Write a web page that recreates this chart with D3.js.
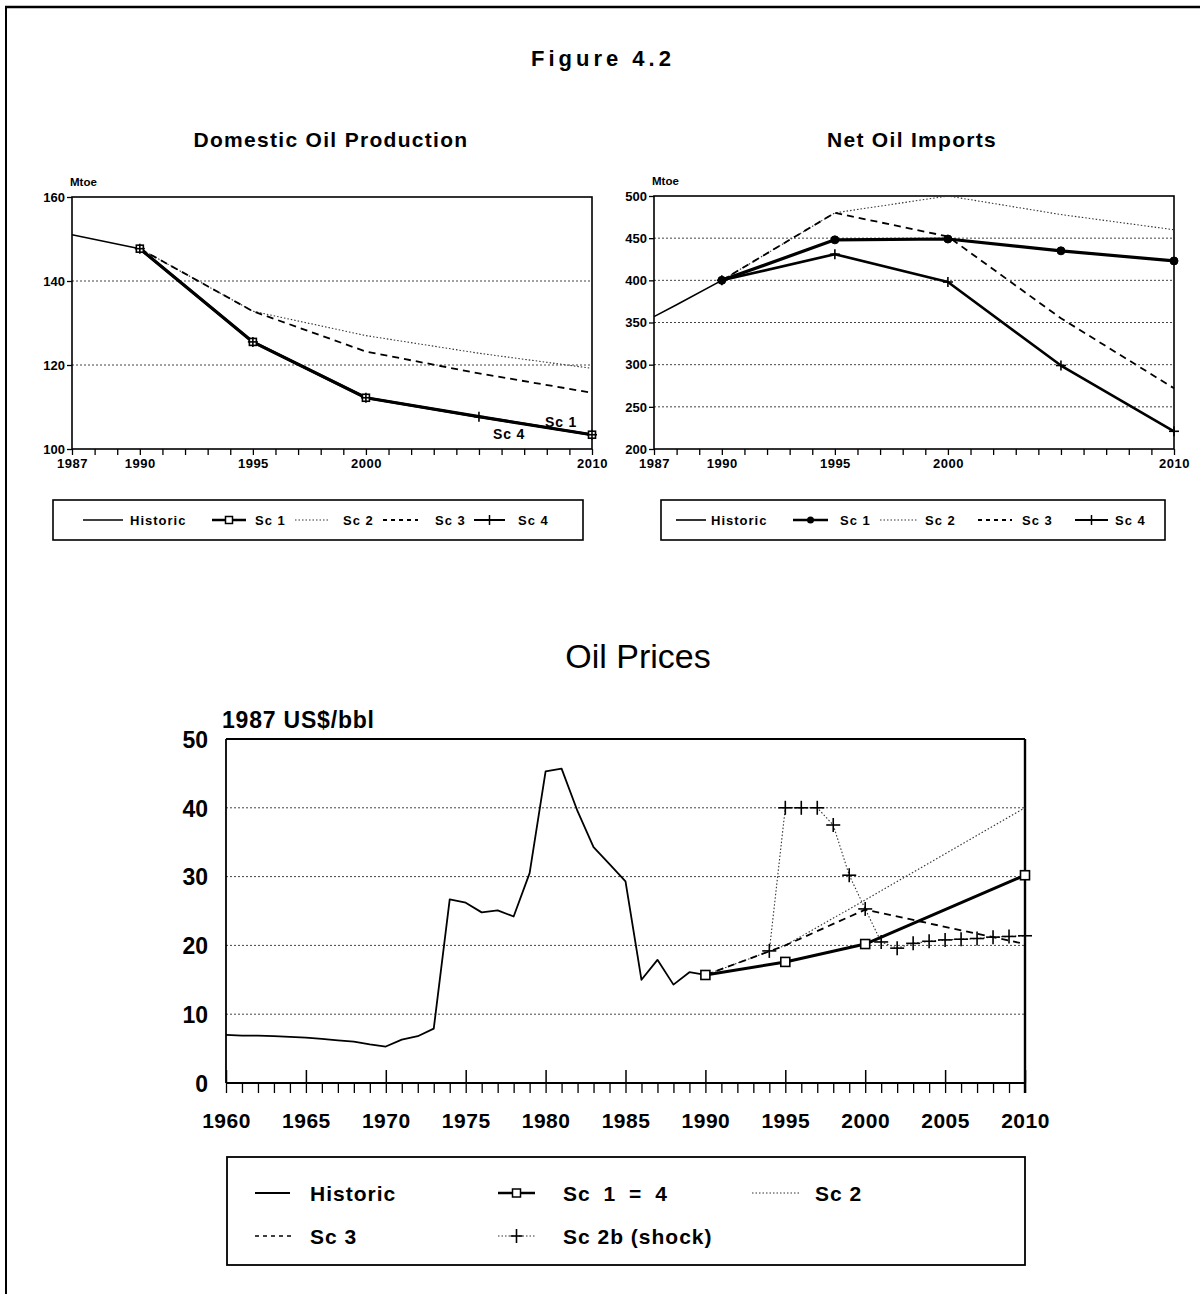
<!DOCTYPE html>
<html><head><meta charset="utf-8">
<script src="https://cdn.jsdelivr.net/npm/d3@7"></script>
<style>
body{margin:0;background:#fff}
svg{display:block}
text{font-family:"Liberation Sans",Arial,Helvetica,sans-serif;fill:#000}
</style>
</head><body>
<svg id="c" width="1200" height="1294"></svg>
<script>
// ---------------- DATA ----------------
// Domestic Oil Production (Mtoe)
const prodHistYears = [1987, 1990];
const prodHist = [151, 147.7];
const scenYears = [1990, 1995, 2000, 2005, 2010];
const prodSc1 = [147.7, 125.5, 112.2, 107.7, 103.4];
const prodSc2 = [147.7, 132.8, 127.0, 122.8, 119.2];
const prodSc3 = [147.7, 132.8, 123.2, 118.0, 113.4];
const prodSc4 = [147.7, 125.5, 112.2, 107.7, 103.4];
const prodYTicks = [100, 120, 140, 160];

// Net Oil Imports (Mtoe)
const impHistYears = [1987, 1988, 1990];
const impHist = [357, 371, 400];
const impSc1 = [400, 448, 449, 435, 423];
const impSc2 = [400, 480, 500, 478, 460];
const impSc3 = [400, 480, 452, 355, 272];
const impSc4 = [400, 431, 398, 299, 221];
const impYTicks = [200, 250, 300, 350, 400, 450, 500];

const smallXLabels = [1987, 1990, 1995, 2000, 2010];

// Oil Prices (1987 US$/bbl)
const priceHistYears = [1960,1961,1962,1963,1964,1965,1966,1967,1968,1969,1970,1971,1972,1973,1974,1975,1976,1977,1978,1979,1980,1981,1982,1983,1984,1985,1986,1987,1988,1989,1990];
const priceHist = [7.0,6.9,6.9,6.8,6.7,6.6,6.4,6.2,6.0,5.6,5.3,6.3,6.8,7.9,26.7,26.2,24.8,25.1,24.2,30.5,45.3,45.7,39.5,34.3,31.8,29.3,15.0,17.9,14.3,16.1,15.7];
const sc14Years = [1990, 1995, 2000, 2010];
const sc14 = [15.7, 17.6, 20.2, 30.2];
const sc2Years = [1990, 1995, 2000, 2010];
const sc2 = [15.7, 20.0, 26.6, 40.0];
const sc3Years = [1990, 1995, 2000, 2010];
const sc3 = [15.7, 20.0, 25.2, 20.2];
const shockYears = [1994,1995,1996,1997,1998,1999,2000,2001,2002,2003,2004,2005,2006,2007,2008,2009,2010];
const shock = [19.2,40.0,40.0,40.0,37.5,30.2,25.3,20.5,19.6,20.3,20.6,20.8,20.9,21.0,21.2,21.3,21.4];
const priceYTicks = [0, 10, 20, 30, 40, 50];
const priceXLabels = [1960,1965,1970,1975,1980,1985,1990,1995,2000,2005,2010];

// ---------------- STYLES ----------------
const ST = {
  hist: {w:1.6, dash:null},
  sc1:  {w:3.2, dash:null},
  sc2:  {w:1.1, dash:"1.5,2", color:"#333"},
  sc3:  {w:1.8, dash:"7,5"},
  sc4:  {w:2.6, dash:null}
};

const svg = d3.select("#c");

// page border
svg.append("line").attr("x1",5).attr("y1",7).attr("x2",1200).attr("y2",7).attr("stroke","#000").attr("stroke-width",2.5);
svg.append("line").attr("x1",6).attr("y1",6).attr("x2",6).attr("y2",1294).attr("stroke","#000").attr("stroke-width",2);

// titles
svg.append("text").attr("x",603).attr("y",66).attr("text-anchor","middle")
  .style("font-size","22px").style("font-weight","bold").style("letter-spacing","4px").text("Figure 4.2");
svg.append("text").attr("x",331).attr("y",147).attr("text-anchor","middle")
  .style("font-size","21px").style("font-weight","bold").style("letter-spacing","1.3px").text("Domestic Oil Production");
svg.append("text").attr("x",912).attr("y",147).attr("text-anchor","middle")
  .style("font-size","21px").style("font-weight","bold").style("letter-spacing","1.3px").text("Net Oil Imports");
svg.append("text").attr("x",638).attr("y",668).attr("text-anchor","middle")
  .style("font-size","34px").text("Oil Prices");

function pathFor(g, x, y, years, vals, st) {
  const data = years.map((yr,i)=>[yr, vals[i]]);
  const p = g.append("path").datum(data)
    .attr("fill","none").attr("stroke", st.color || "#000")
    .attr("stroke-width", st.w).attr("stroke-linejoin","round")
    .attr("d", d3.line().x(d=>x(d[0])).y(d=>y(d[1])));
  if (st.dash) p.attr("stroke-dasharray", st.dash);
  return data;
}
function squares(g, x, y, data, s) {
  g.selectAll(null).data(data).enter().append("rect")
    .attr("x", d=>x(d[0])-s/2).attr("y", d=>y(d[1])-s/2)
    .attr("width", s).attr("height", s)
    .attr("fill","#fff").attr("stroke","#000").attr("stroke-width",1.6);
}
function circles(g, x, y, data, r) {
  g.selectAll(null).data(data).enter().append("circle")
    .attr("cx", d=>x(d[0])).attr("cy", d=>y(d[1])).attr("r", r)
    .attr("fill","#000").attr("stroke","#000");
}
function pluses(g, x, y, data, s, w) {
  const sel = g.selectAll(null).data(data).enter().append("g")
    .attr("transform", d=>`translate(${x(d[0])},${y(d[1])})`);
  sel.append("line").attr("x1",-s).attr("x2",s).attr("y1",0).attr("y2",0).attr("stroke","#000").attr("stroke-width",w);
  sel.append("line").attr("y1",-s).attr("y2",s).attr("x1",0).attr("x2",0).attr("stroke","#000").attr("stroke-width",w);
}

function smallChart(cfg) {
  const g = svg.append("g");
  const x = d3.scaleLinear().domain([1987, 2010]).range([cfg.left, cfg.right]);
  const y = d3.scaleLinear().domain([cfg.yTicks[0], cfg.yTicks[cfg.yTicks.length-1]]).range([cfg.bottom, cfg.top]);
  g.selectAll(null).data(cfg.yTicks.slice(1, -1)).enter().append("line")
    .attr("x1", cfg.left).attr("x2", cfg.right).attr("y1", d=>y(d)).attr("y2", d=>y(d))
    .attr("stroke","#444").attr("stroke-width",1).attr("stroke-dasharray","2,2");
  const xa = g.append("g").attr("transform",`translate(0,${cfg.bottom})`)
    .call(d3.axisBottom(x).tickValues(d3.range(1987, 2011)).tickSize(6).tickPadding(4)
      .tickFormat(d => smallXLabels.includes(d) ? d : ""));
  const ya = g.append("g").attr("transform",`translate(${cfg.left},0)`)
    .call(d3.axisLeft(y).tickValues(cfg.yTicks).tickSize(5).tickPadding(2));
  [xa, ya].forEach(a => {
    a.select(".domain").remove();
    a.selectAll("line").attr("stroke","#000").attr("stroke-width",1.3);
    a.selectAll("text").style("font-size","13px").style("font-weight","bold").attr("fill","#000")
      .style("font-family","'Liberation Sans',Arial,sans-serif");
  });
  xa.selectAll("text").style("letter-spacing","0.5px");
  g.append("rect").attr("x",cfg.left).attr("y",cfg.top).attr("width",cfg.right-cfg.left).attr("height",cfg.bottom-cfg.top)
    .attr("fill","none").attr("stroke","#000").attr("stroke-width",1.6);
  g.append("text").attr("x", cfg.left-2).attr("y", cfg.top-11).style("font-size","11.5px").style("font-weight","bold").text("Mtoe");

  pathFor(g, x, y, cfg.histYears, cfg.hist, ST.hist);
  pathFor(g, x, y, scenYears, cfg.sc2, ST.sc2);
  pathFor(g, x, y, scenYears, cfg.sc3, ST.sc3);
  const d4 = pathFor(g, x, y, scenYears, cfg.sc4, ST.sc4);
  const d1 = pathFor(g, x, y, scenYears, cfg.sc1, ST.sc1);
  if (cfg.marker === "square") squares(g, x, y, d1.filter(d=>d[0]!==2005), 7);
  else circles(g, x, y, d1, 4);
  pluses(g, x, y, d4, 5, 1.6);
  return {g, x, y};
}

const left = smallChart({left:72, right:592, top:197, bottom:449, yTicks:prodYTicks,
  histYears:prodHistYears, hist:prodHist, sc1:prodSc1, sc2:prodSc2, sc3:prodSc3, sc4:prodSc4, marker:"square"});
left.g.append("text").attr("x",545).attr("y",427).style("font-size","14px").style("font-weight","bold").style("letter-spacing","0.8px").text("Sc 1");
left.g.append("text").attr("x",493).attr("y",439).style("font-size","14px").style("font-weight","bold").style("letter-spacing","0.8px").text("Sc 4");

smallChart({left:654, right:1174, top:196, bottom:449, yTicks:impYTicks,
  histYears:impHistYears, hist:impHist, sc1:impSc1, sc2:impSc2, sc3:impSc3, sc4:impSc4, marker:"circle"});

function smallLegend(bx, bw, items, marker) {
  const g = svg.append("g");
  g.append("rect").attr("x",bx).attr("y",500).attr("width",bw).attr("height",40)
    .attr("fill","none").attr("stroke","#000").attr("stroke-width",1.6);
  const cy = 520;
  items.forEach(it => {
    const st = ST[it.key];
    const l = g.append("line").attr("x1",it.l0).attr("x2",it.l1).attr("y1",cy).attr("y2",cy)
      .attr("stroke",st.color||"#000").attr("stroke-width", it.key==="sc1"?2.4:(it.key==="sc4"?2:st.w));
    if (st.dash) l.attr("stroke-dasharray", it.key==="sc3" ? "4,4" : st.dash);
    const mx = (it.l0+it.l1)/2;
    if (it.key==="sc1") {
      if (marker==="square") g.append("rect").attr("x",mx-3.5).attr("y",cy-3.5).attr("width",7).attr("height",7).attr("fill","#fff").attr("stroke","#000").attr("stroke-width",1.5);
      else g.append("circle").attr("cx",mx).attr("cy",cy).attr("r",3.5).attr("fill","#000");
    }
    if (it.key==="sc4") {
      g.append("line").attr("x1",mx).attr("x2",mx).attr("y1",cy-5).attr("y2",cy+5).attr("stroke","#000").attr("stroke-width",1.5);
    }
    g.append("text").attr("x",it.tx).attr("y",cy).attr("dy","0.36em")
      .style("font-size","13px").style("font-weight","bold").style("letter-spacing","1px").text(it.label);
  });
}
smallLegend(53, 530, [
  {key:"hist", l0:83, l1:123, tx:130, label:"Historic"},
  {key:"sc1", l0:212, l1:246, tx:255, label:"Sc 1"},
  {key:"sc2", l0:295, l1:330, tx:343, label:"Sc 2"},
  {key:"sc3", l0:383, l1:418, tx:435, label:"Sc 3"},
  {key:"sc4", l0:474, l1:505, tx:518, label:"Sc 4"}
], "square");
smallLegend(661, 504, [
  {key:"hist", l0:676, l1:706, tx:711, label:"Historic"},
  {key:"sc1", l0:793, l1:828, tx:840, label:"Sc 1"},
  {key:"sc2", l0:880, l1:918, tx:925, label:"Sc 2"},
  {key:"sc3", l0:978, l1:1012, tx:1022, label:"Sc 3"},
  {key:"sc4", l0:1075, l1:1108, tx:1115, label:"Sc 4"}
], "circle");

// ---------------- OIL PRICES ----------------
(function(){
  const L=226, R=1025, T=739, B=1083;
  const g = svg.append("g");
  const x = d3.scaleLinear().domain([1960, 2010]).range([L, R]);
  const y = d3.scaleLinear().domain([0, 50]).range([B, T]);
  g.selectAll(null).data(priceYTicks.slice(1,-1)).enter().append("line")
    .attr("x1",L).attr("x2",R).attr("y1",d=>y(d)).attr("y2",d=>y(d))
    .attr("stroke","#444").attr("stroke-width",1).attr("stroke-dasharray","2,2");
  const xa = g.append("g").attr("transform",`translate(0,${B})`)
    .call(d3.axisBottom(x).tickValues(d3.range(1960, 2011)).tickSize(10).tickFormat(""));
  xa.select(".domain").remove();
  xa.selectAll("line").attr("stroke","#000").attr("stroke-width",1.3);
  const xm = g.append("g").attr("transform",`translate(0,${B})`)
    .call(d3.axisBottom(x).tickValues(priceXLabels).tickSizeInner(-13).tickSizeOuter(0).tickPadding(30).tickFormat(d3.format("d")));
  xm.select(".domain").remove();
  xm.selectAll("line").attr("stroke","#000").attr("stroke-width",1.5);
  xm.selectAll("text").style("font-size","21px").style("font-weight","bold").style("letter-spacing","0.5px")
    .style("font-family","'Liberation Sans',Arial,sans-serif").attr("fill","#000");
  const ya = g.append("g").attr("transform",`translate(${L},0)`)
    .call(d3.axisLeft(y).tickValues(priceYTicks).tickSize(0).tickPadding(18));
  ya.select(".domain").remove();
  ya.selectAll("text").style("font-size","23px").style("font-weight","bold").attr("dy","0.36em")
    .style("font-family","'Liberation Sans',Arial,sans-serif").attr("fill","#000");
  g.append("line").attr("x1",L).attr("x2",R).attr("y1",B).attr("y2",B).attr("stroke","#000").attr("stroke-width",1.8);
  g.append("line").attr("x1",L).attr("x2",L).attr("y1",T).attr("y2",B).attr("stroke","#000").attr("stroke-width",1.8);
  g.append("line").attr("x1",L).attr("x2",R).attr("y1",T).attr("y2",T).attr("stroke","#000").attr("stroke-width",1.8);
  g.append("line").attr("x1",R).attr("x2",R).attr("y1",T).attr("y2",B+10).attr("stroke","#000").attr("stroke-width",2.4);
  g.append("text").attr("x",222).attr("y",728).style("font-size","23px").style("font-weight","bold").style("letter-spacing","0.8px").text("1987 US$/bbl");

  pathFor(g, x, y, priceHistYears, priceHist, {w:1.8});
  pathFor(g, x, y, sc2Years, sc2, ST.sc2);
  const ds = pathFor(g, x, y, shockYears, shock, ST.sc2);
  pathFor(g, x, y, sc3Years, sc3, {w:1.8, dash:"7,5"});
  const d14 = pathFor(g, x, y, sc14Years, sc14, {w:3});
  squares(g, x, y, d14, 9);
  pluses(g, x, y, ds, 7, 1.6);

  const lg = svg.append("g");
  lg.append("rect").attr("x",227).attr("y",1157).attr("width",798).attr("height",108)
    .attr("fill","none").attr("stroke","#000").attr("stroke-width",1.8);
  const items = [
    {l0:255,l1:290,y:1193,tx:310,label:"Historic",st:{w:1.8}},
    {l0:498,l1:535,y:1193,tx:563,label:"Sc 1 = 4",st:{w:2.4},mk:"sq",ws:"6px"},
    {l0:752,l1:800,y:1193,tx:815,label:"Sc 2",st:ST.sc2},
    {l0:255,l1:292,y:1236,tx:310,label:"Sc 3",st:{w:1.5,dash:"4,4"}},
    {l0:498,l1:535,y:1236,tx:563,label:"Sc 2b (shock)",st:ST.sc2,mk:"plus"}
  ];
  items.forEach(it => {
    const l = lg.append("line").attr("x1",it.l0).attr("x2",it.l1).attr("y1",it.y).attr("y2",it.y)
      .attr("stroke",it.st.color||"#000").attr("stroke-width",it.st.w);
    if (it.st.dash) l.attr("stroke-dasharray", it.st.dash);
    const mx=(it.l0+it.l1)/2;
    if (it.mk==="sq") lg.append("rect").attr("x",mx-4).attr("y",it.y-4).attr("width",8).attr("height",8).attr("fill","#fff").attr("stroke","#000").attr("stroke-width",1.5);
    if (it.mk==="plus") {
      lg.append("line").attr("x1",mx-6).attr("x2",mx+6).attr("y1",it.y).attr("y2",it.y).attr("stroke","#000").attr("stroke-width",1.6);
      lg.append("line").attr("x1",mx).attr("x2",mx).attr("y1",it.y-7).attr("y2",it.y+7).attr("stroke","#000").attr("stroke-width",1.6);
    }
    const t = lg.append("text").attr("x",it.tx).attr("y",it.y).attr("dy","0.36em")
      .style("font-size","21px").style("font-weight","bold").style("letter-spacing","1px").text(it.label);
    if (it.ws) t.style("word-spacing", it.ws);
  });
})();
</script>
</body></html>
